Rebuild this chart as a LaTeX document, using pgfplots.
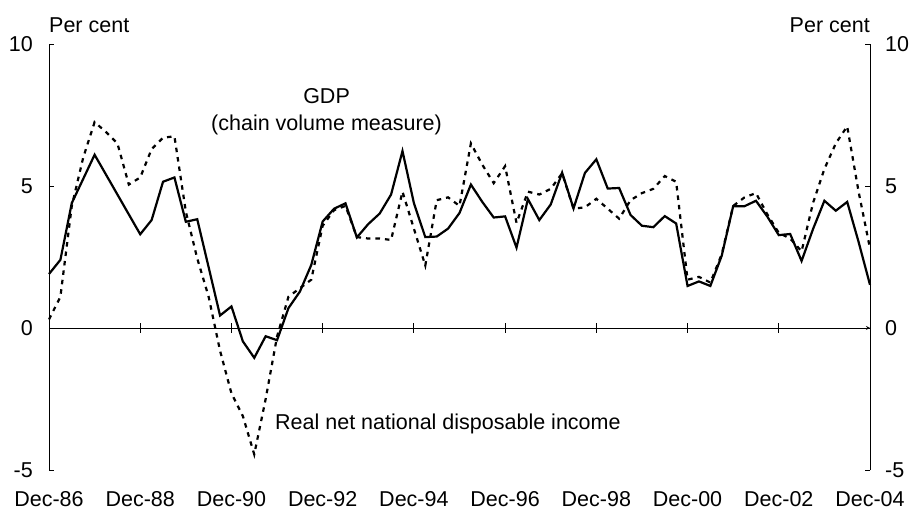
\documentclass[border=0pt]{standalone}
\usepackage{fontspec}
\setmainfont{Liberation Sans}
\usepackage{pgfplots}
\usepackage{pgfplotstable}
\pgfplotsset{compat=1.18}
\newcommand{\chfont}{\fontsize{21.5bp}{25bp}\selectfont}
\pgfplotstableread{
i gdp rnndi
0 1.9 0.3
1 2.4 1.1
2 4.4 4.3
3 5.25 6.0
4 6.1 7.25
5 5.4 6.9
6 4.7 6.5
7 4.0 5.05
8 3.3 5.3
9 3.8 6.3
10 5.15 6.7
11 5.3 6.75
12 3.74 4.1
13 3.83 2.45
14 2.14 1.1
15 0.44 -0.8
16 0.76 -2.3
17 -0.47 -3.1
18 -1.05 -4.45
19 -0.29 -2.5
20 -0.43 -0.3
21 0.7 1.1
22 1.28 1.4
23 2.22 1.7
24 3.75 3.6
25 4.2 4.15
26 4.39 4.3
27 3.19 3.2
28 3.66 3.15
29 4.03 3.15
30 4.7 3.1
31 6.23 4.8
32 4.4 3.5
33 3.2 2.2
34 3.22 4.5
35 3.5 4.6
36 4.05 4.3
37 5.05 6.5
38 4.44 5.75
39 3.89 5.1
40 3.93 5.7
41 2.83 3.7
42 4.54 4.8
43 3.8 4.7
44 4.35 4.9
45 5.47 5.45
46 4.21 4.2
47 5.46 4.25
48 5.94 4.55
49 4.91 4.2
50 4.93 3.85
51 3.98 4.5
52 3.6 4.75
53 3.55 4.9
54 3.94 5.35
55 3.68 5.15
56 1.48 1.7
57 1.64 1.8
58 1.48 1.6
59 2.55 2.6
60 4.29 4.3
61 4.29 4.6
62 4.48 4.75
63 3.92 4.0
64 3.27 3.35
65 3.31 3.15
66 2.36 2.7
67 3.48 4.4
68 4.48 5.6
69 4.13 6.5
70 4.44 7.1
71 3.03 4.8
72 1.52 2.8
}\datatable
\pgfplotsset{
  every axis/.append style={scale only axis, width=821bp, height=426bp,
    xmin=0, xmax=72, ymin=-5, ymax=10, clip=false,
    tick label style={font=\chfont},
    axis line style={-, black, line width=0.8bp},
    tick style={black, line width=0.8bp}},
}
\begin{document}
\begin{tikzpicture}[font=\chfont]
% main axis: left y, data, x labels
\begin{axis}[
  axis y line*=left, axis x line*=bottom,
  x axis line style={draw=none},
  xtick={0,8,...,72},
  xticklabels={Dec-86,Dec-88,Dec-90,Dec-92,Dec-94,Dec-96,Dec-98,Dec-00,Dec-02,Dec-04},
  xtick style={draw=none},
  xticklabel style={anchor=north, inner sep=0pt, yshift=-21bp},
  ytick={-5,0,5,10}, yticklabels={-5,0,5,10},
  tick align=inside, major tick length=5bp,
  yticklabel style={anchor=east, inner sep=0pt, xshift=-16bp},
]
\addplot[black, line width=2.2bp, dash pattern=on 4.5bp off 5bp] table[x=i, y=rnndi] {\datatable};
\addplot[black, line width=2.2bp] table[x=i, y=gdp] {\datatable};
\node[anchor=base west, inner sep=0pt] at (axis cs:0,10.39) {Per cent};
\node[anchor=base east, inner sep=0pt] at (axis cs:72,10.39) {Per cent};
\node[anchor=base, inner sep=0pt] at (axis cs:24.34,7.91) {GDP};
\node[anchor=base, inner sep=0pt] at (axis cs:24.34,6.97) {(chain volume measure)};
\node[anchor=base west, inner sep=0pt] at (axis cs:19.82,-3.59) {Real net national disposable income};
\end{axis}
% right y axis
\begin{axis}[
  axis y line*=right, axis x line=none,
  ytick={-5,0,5,10}, yticklabels={-5,0,5,10},
  tick align=inside, major tick length=5bp,
  yticklabel style={anchor=west, inner sep=0pt, xshift=15bp},
]
\end{axis}
% zero line with crossing ticks
\begin{axis}[
  axis x line=middle, axis y line=none,
  xtick={0,8,...,72}, xticklabels={},
  tick align=center, major tick length=10bp,
]
\end{axis}
\pgfresetboundingbox
\useasboundingbox (-49bp,-40bp) rectangle (860bp,470bp);
\end{tikzpicture}
\end{document}
